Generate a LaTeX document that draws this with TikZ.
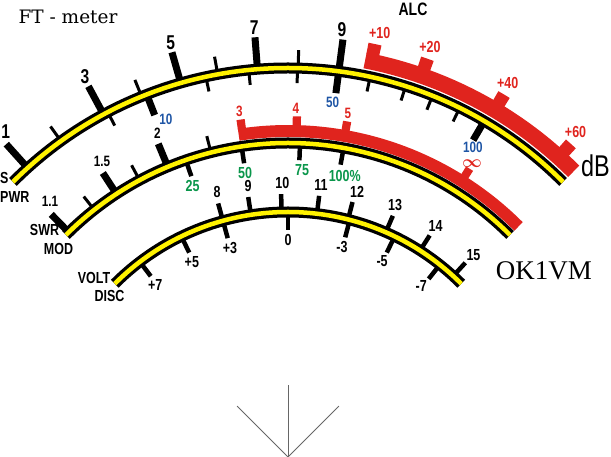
\documentclass[tikz,border=0pt]{standalone}
\usepackage{bm}
\usepackage{fontspec}
\setmainfont{Liberation Serif}
\newfontfamily\meterfont[FakeStretch=0.78]{Liberation Sans}
\newfontfamily\titlefont{DejaVu Serif}
\definecolor{meterred}{RGB}{224,36,30}
\definecolor{meteryellow}{RGB}{255,242,0}
\definecolor{meterblue}{RGB}{30,85,165}
\definecolor{metergreen}{RGB}{10,150,75}

\begin{document}
\begin{tikzpicture}[x=1pt,y=1pt]
\useasboundingbox (-288,0) rectangle (323,457);
%------------------------------------------------------------------------------------------------
% Meter Styles

    \tikzset{band/.style={line width=11pt, black},
        stripe/.style={line width=4.5pt, meteryellow},
        bigtick/.style={line width=7pt},
        midtick/.style={line width=4.5pt},
        smalltick/.style={line width=3pt},
        alcband/.style={line width=16pt, meterred},
        alctab/.style={line width=11pt, meterred},
        swrband/.style={line width=12pt, meterred},
        swrtab/.style={line width=9.5pt, meterred},
        biglbl/.style={inner sep=0pt, font=\meterfont\bfseries\fontsize{20}{20}\selectfont},
        lbl/.style={inner sep=0pt, font=\meterfont\bfseries\fontsize{16}{16}\selectfont},
        smalllbl/.style={inner sep=0pt, font=\meterfont\bfseries\fontsize{15}{15}\selectfont}
    }
    \coordinate (pivot) at (0,0);
%------------------------------------------------------------------------------------------------
% red ALC and SWR bands
    \draw[alcband] (79:404) arc[start angle=79, end angle=45, radius=404];
    \foreach \ang in {78.1, 70.7, 59.2, 47.9} {
        \draw[alctab] ({\ang+0.9}:416.5) arc[start angle=\ang+0.9, end angle=\ang-0.9, radius=416.5];
    }
    \draw[swrband] (98.7:326) arc[start angle=98.7, end angle=45, radius=326];
    \foreach \ang in {98, 88.5, 80, 57.8} {
        \draw[swrtab] ({\ang+0.7}:336) arc[start angle=\ang+0.7, end angle=\ang-0.7, radius=336];
    }
%------------------------------------------------------------------------------------------------
% S / PWR scale
    % outer ticks
    \foreach \ang/\lang/\txt [count=\i] in {132/130.9/1, 118.3/118.1/3, 106/105.8/5, 94.5/94.5/7, 82.5/82.8/9} {
        \draw[bigtick] (\ang:390) -- (\ang:421);
        \node[biglbl] (s\i) at (\lang:431) {\txt};
    }
    \foreach \ang in {125.7, 112.1, 100.4, 88.5} {
        \draw[smalltick] (\ang:390) -- (\ang:407);
    }
    % inner ticks
    \foreach \ang in {117.6, 102.2, 95.8, 88.6, 77.8, 72.4, 68.2, 63.8} {
        \draw[smalltick] (\ang:388) -- (\ang:374);
    }
    \foreach \ang in {111.3, 82.5, 59.7} {
        \draw[bigtick] (\ang:388) -- (\ang:367);
    }
    \node[smalllbl, meterblue] (pwr1) at (109.9:359) {10};
    \node[smalllbl, meterblue] (pwr2) at (82.8:357) {50};
    \node[smalllbl, meterblue] (pwr3) at (185,310) {100};
    % ALC labels
    \foreach \ang/\txt [count=\i] in {77.8/+10, 70.9/+20, 59.6/+40, 48.5/+60} {
        \node[lbl, meterred] (alc\i) at (\ang:434) {\txt};
    }
%------------------------------------------------------------------------------------------------
% SWR / MOD scale
    \foreach \ang/\lang/\txt [count=\i] in {134.3/133/1.1, 123.1/122.2/1.5, 112.5/112/2} {
        \draw[bigtick] (\ang:316) -- (\ang:339);
        \node[smalllbl] (swr\i) at (\lang:349) {\txt};
    }
    \foreach \ang in {128.1, 118.2, 104.2} {
        \draw[smalltick] (\ang:316) -- (\ang:331);
    }
    \foreach \ang/\txt [count=\i] in {98/3, 88.7/4, 80.1/5} {
        \node[smalllbl, meterred] (ref\i) at (\ang:349) {\txt};
    }
    \node[inner sep=0pt, meterred, font=\fontsize{16}{16}\selectfont] (ref4) at (184,293) {$\bm{\infty}$};
    \foreach \ang/\lang/\txt [count=\i] in {109/109.4/25, 98.5/98.6/50, 87.8/87.2/75, 79.8/78.6/100\%} {
        \draw[midtick] (\ang:312) -- (\ang:297);
        \node[lbl, metergreen] (mod\i) at (\lang:287) {\txt};
    }
%------------------------------------------------------------------------------------------------
% VOLT / DISC scale
    \foreach \ang/\lang/\txt [count=\i] in {105.4/105/8, 98.7/98.4/9, 91.5/91.2/10, 83.2/83.1/11,
            75.8/75.4/12, 66.5/67/13, 57.4/57.4/14, 47.6/47.4/15} {
        \draw[midtick] (\ang:247) -- (\ang:263);
        \node[lbl] (volt\i) at (\lang:274) {\txt};
    }
    \foreach \ang/\lang/\txt [count=\i] in {127.2/127.7/+7, 115.8/116.3/+5, 105.4/105.5/+3, 90/90/0,
            75.4/75.6/-3, 64.2/64.3/-5, 51.7/52.1/-7} {
        \draw[midtick] (\ang:243) -- (\ang:227);
        \node[lbl] (disc\i) at (\lang:217) {\txt};
    }
%------------------------------------------------------------------------------------------------
% the three arcs
    \foreach \r in {389, 314, 245} {
        \draw[band] (135:\r) arc[start angle=135, end angle=45, radius=\r];
        \draw[stripe] (135:\r) arc[start angle=135, end angle=45, radius=\r];
    }
%------------------------------------------------------------------------------------------------
% names
    \node[lbl, anchor=west] (sname) at (-288,279) {S};
    \node[lbl, anchor=west] (pwrname) at (-288,260) {PWR};
    \node[lbl] (swrname) at (-243.5,227.5) {SWR};
    \node[lbl] (modname) at (-229.5,208) {MOD};
    \node[lbl] (voltname) at (-194,179.5) {VOLT};
    \node[lbl] (discname) at (-178.5,161) {DISC};
    \node[lbl, font=\meterfont\bfseries\fontsize{18}{18}\selectfont] (alcname) at (125,448) {ALC};
    \node[inner sep=0pt, anchor=east, font=\meterfont\fontsize{30}{30}\selectfont] (db) at (322,291) {dB};
    \node[inner sep=0pt, font=\titlefont\fontsize{18.5}{18.5}\selectfont] (title) at (-220,440) {FT - meter};
    \node[inner sep=0pt, font=\fontsize{27}{27}\selectfont] (call) at (256,186) {OK1VM};
%------------------------------------------------------------------------------------------------
% needle range
    \foreach \ang in {45, 90, 135} {
        \draw[gray!80!black, line width=0.8pt] (pivot) -- (\ang:72) coordinate (needle\ang);
    }
\end{tikzpicture}
\end{document}
